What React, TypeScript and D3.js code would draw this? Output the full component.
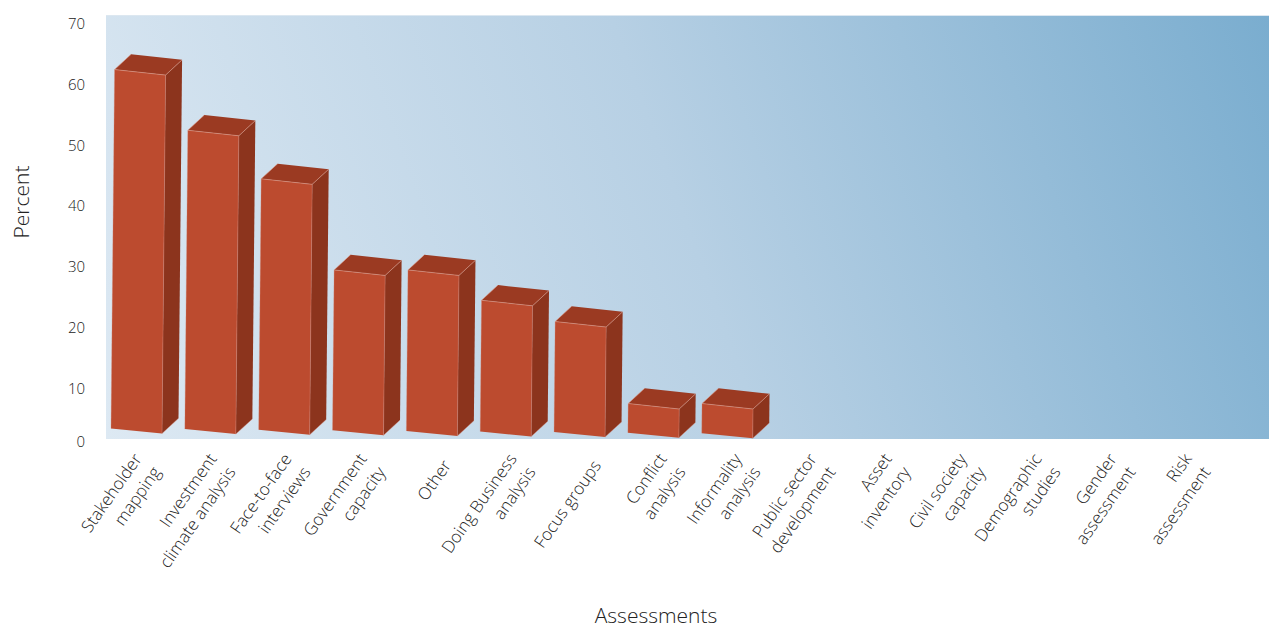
import React from "react";
import * as d3 from "d3";

const categories: string[][] = [
  ["Stakeholder", "mapping"],
  ["Investment", "climate analysis"],
  ["Face-to-face", "interviews"],
  ["Government", "capacity"],
  ["Other"],
  ["Doing Business", "analysis"],
  ["Focus groups"],
  ["Conflict", "analysis"],
  ["Informality", "analysis"],
  ["Public sector", "development"],
  ["Asset", "inventory"],
  ["Civil society", "capacity"],
  ["Demographic", "studies"],
  ["Gender", "assessment"],
  ["Risk", "assessment"],
];
const values: number[] = [62, 52, 44, 29, 29, 24, 20.5, 7, 7, 0, 0, 0, 0, 0, 0];
const yTicks: number[] = [0, 10, 20, 30, 40, 50, 60, 70];
const yTitle = "Percent";
const xTitle = "Assessments";

const W = 1269;
const H = 628;
const FONT = "'Open Sans', 'Noto Sans', sans-serif";

export default function App() {
  const keys = categories.map((c) => c.join(" "));
  const xBar = d3.scalePoint<string>().domain(keys).range([111, 111 + 14 * 73.84]);
  const xLab = d3.scalePoint<string>().domain(keys).range([147, 147 + 14 * 75]);
  const yScale = d3.scaleLinear().domain([0, 70]).range([446, 21]);

  const plot = { x: 106, y: 15.5, w: W - 106, h: 439 - 15.5 };
  const barW = 51;
  const depth: [number, number] = [16.5, -15.2];
  const lean = 0.01;

  const pt = (p: number[]) => `${p[0]},${p[1]}`;

  const bars = values.map((v, i) => {
    if (v <= 0) return null;
    const xl = xBar(keys[i]) as number;
    const base = 428.5 + i * 0.6;
    const top = yScale(v);
    const h = base - top;
    const BL = [xl, base];
    const BR = [xl + barW, base + 5];
    const TL = [xl + lean * h, top];
    const TR = [xl + barW + lean * h, top + 5.5];
    const TLb = [TL[0] + depth[0], TL[1] + depth[1]];
    const TRb = [TR[0] + depth[0], TR[1] + depth[1]];
    const BRb = [BR[0] + depth[0], BR[1] + depth[1]];
    return (
      <g key={i}>
        <polygon points={[TR, BR, BRb, TRb].map(pt).join(" ")} fill="#8c341d" />
        <polygon points={[TL, TR, TRb, TLb].map(pt).join(" ")} fill="#9b3a22" />
        <polygon points={[TL, TR, BR, BL].map(pt).join(" ")} fill="#bc4b2f" />
        <polyline
          points={[TLb, TL, TR, TRb].map(pt).join(" ")}
          fill="none"
          stroke="#e0a08e"
          strokeWidth={0.7}
          strokeOpacity={0.8}
        />
        <polyline
          points={[BL, TL].map(pt).join(" ")}
          fill="none"
          stroke="#d7887a"
          strokeWidth={0.6}
          strokeOpacity={0.5}
        />
        <polyline
          points={[TR, BR, BRb].map(pt).join(" ")}
          fill="none"
          stroke="#d7887a"
          strokeWidth={0.6}
          strokeOpacity={0.7}
        />
      </g>
    );
  });

  return (
    <svg
      width={W}
      height={H}
      style={{ position: "absolute", left: 0, top: 0, display: "block" }}
      fontFamily={FONT}
    >
      <defs>
        <linearGradient
          id="bg"
          gradientUnits="userSpaceOnUse"
          x1={plot.x}
          y1={plot.y + plot.h}
          x2={plot.x + plot.w}
          y2={plot.y}
        >
          <stop offset="0" stopColor="#dde9f3" />
          <stop offset="0.5" stopColor="#b7d0e4" />
          <stop offset="1" stopColor="#7aadcf" />
        </linearGradient>
      </defs>
      <rect width={W} height={H} fill="#ffffff" />
      <rect x={plot.x} y={plot.y} width={plot.w} height={plot.h} fill="url(#bg)" />
      <line x1={plot.x} x2={plot.x + plot.w} y1={plot.y} y2={plot.y} stroke="#dce7f0" strokeWidth={1} />

      {yTicks.map((t) => (
        <text
          key={t}
          x={85}
          y={Math.min(yScale(t) + 3, 441.5)}
          dy="0.35em"
          textAnchor="end"
          fontSize={15}
          fontWeight={300}
          fill="#222"
        >
          {t}
        </text>
      ))}

      {bars}

      {categories.map((lines, i) => {
        const x = xLab(keys[i]) as number;
        const n = lines.length;
        return (
          <g key={i} transform={`translate(${x},462) rotate(-55)`}>
            <text textAnchor="end" fontSize={17} fontWeight={300} fill="#222">
              {lines.map((l, k) => (
                <tspan key={k} x={0} y={(k - (n - 1) / 2) * 23} dy="0.35em">
                  {l}
                </tspan>
              ))}
            </text>
          </g>
        );
      })}

      <text
        transform={`translate(22,202) rotate(-90)`}
        textAnchor="middle"
        dy="0.35em"
        fontSize={21}
        fontWeight={300}
        fill="#222"
      >
        {yTitle}
      </text>
      <text x={656} y={623} textAnchor="middle" fontSize={21} fontWeight={300} fill="#222">
        {xTitle}
      </text>
    </svg>
  );
}
